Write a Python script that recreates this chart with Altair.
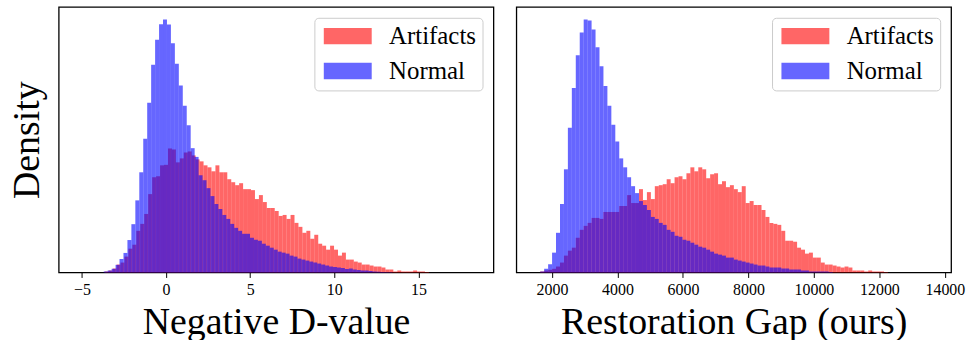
import altair as alt
import pandas as pd

SERIES = ["Artifacts", "Normal"]
COLORS = ["#ff0000", "#0000ff"]

# ---- Left panel: Negative D-value (histogram heights, arbitrary density units) ----
L_BIN_WIDTH = 0.235
L_ART_START = -3.645
L_ART = [1, 2, 4, 8, 10, 16, 24, 28, 42, 49, 59, 79, 96, 97, 108,
         108.5, 125, 124, 111, 115, 121, 122, 118, 114, 112, 108, 106, 102, 108, 101,
         101, 94, 91, 88, 90, 84, 84, 83, 74, 78, 71, 65, 65, 62, 57,
         58, 54, 58, 50, 46, 40, 42, 34, 38, 29, 27, 23, 27, 23, 17,
         20, 13, 13, 11, 10, 8, 8, 7, 6, 6, 5, 3, 3, 1, 2,
         1, 1, 1, 2, 1, 1, 0.5]
L_NOR_START = -3.705
L_NOR = [1, 2, 3.7, 7.7, 13.7, 19.7, 32.7, 48.7, 72.7, 101, 134.7, 171, 209.3, 234.7, 250.3,
         255, 250, 231, 210.3, 188.5, 168, 148.5, 125.3, 116.5, 98, 93, 85, 77, 69, 64,
         58, 54, 49, 45, 42, 39, 39, 35, 33, 32, 29, 27, 25, 23, 21,
         20, 19, 17, 16, 14, 13, 12, 11, 10, 9, 8, 7, 6, 5.5, 5,
         4.5, 3.5, 4, 3, 2.5, 2, 2, 1.5, 1, 0.8, 0.5, 0.4, 0.3]
L_TICKS = [-5, 0, 5, 10, 15]
L_DOMAIN = [-6.38, 19.46]

# ---- Right panel: Restoration Gap (ours) ----
R_BIN_WIDTH = 120.7
R_ART_START = 1640.3
R_ART = [1, 2, 2.7, 3.7, 6, 10, 17, 22, 25, 35, 43, 47, 50, 55, 55, 54, 61, 61, 61, 61,
         67, 67, 78, 70, 70, 84, 73, 81, 74, 87, 88, 89, 94, 90, 96, 97, 94, 100, 106, 102,
         106, 104, 95, 99, 100, 89, 92, 86, 88, 84, 81, 87, 70, 72, 68, 68, 63, 56, 50, 49,
         48, 42, 32, 32, 31, 25, 23, 19, 20, 15, 15, 10, 8, 8, 7, 6, 5, 6, 5, 2,
         2, 2, 1, 2, 1, 1, 1, 0.5]
R_NOR_START = 1640.3
R_NOR = [1, 3.7, 8.3, 20, 40, 69, 104, 146, 186, 219, 242, 255, 254, 245, 227, 208, 188, 168, 149, 132,
         115, 106, 96, 87, 80, 72, 68, 63, 56, 54, 50, 48, 43, 41, 37, 36, 33, 32, 30, 28,
         26, 25, 23, 21, 19, 18, 17, 15, 15, 13, 12, 11, 10, 9, 8, 7, 7, 6, 5, 5,
         5, 4, 4, 3, 3, 3, 2, 2, 1, 1, 1, 1, 1, 0.5]
R_TICKS = [2000, 4000, 6000, 8000, 10000, 12000, 14000]
R_DOMAIN = [911, 14190]

Y_MAX = 267.75
FONT = "Liberation Serif"


def build(series_specs, width):
    rows = []
    for name, start, heights in series_specs:
        for i, h in enumerate(heights):
            rows.append({"series": name, "x0": start + i * width,
                         "x1": start + (i + 1) * width, "h": h, "base": 0.0})
    return pd.DataFrame(rows)


left_df = build([("Artifacts", L_ART_START, L_ART), ("Normal", L_NOR_START, L_NOR)], L_BIN_WIDTH)
right_df = build([("Artifacts", R_ART_START, R_ART), ("Normal", R_NOR_START, R_NOR)], R_BIN_WIDTH)

legend = alt.Legend(
    title=None, orient="top-right", offset=11, padding=6,
    fillColor="rgba(255,255,255,0.8)", strokeColor="#cccccc", cornerRadius=4,
    labelFont=FONT, labelFontSize=25, labelColor="black", labelOffset=41,
    symbolType="M-1,-0.68H3V0.68H-1Z", symbolSize=580, symbolOpacity=0.6,
    symbolStrokeWidth=0, symbolOffset=3, rowPadding=9,
)


def panel(df, domain, ticks, xtitle, ytitle, fmt):
    yaxis = alt.Axis(title=ytitle, labels=False, ticks=False, domain=False, grid=False,
                     titlePadding=12, titleFont=FONT) if ytitle else None
    return alt.Chart(df).mark_rect(opacity=0.6, strokeWidth=0).encode(
        x=alt.X("x0:Q", scale=alt.Scale(domain=domain, nice=False, zero=False),
                axis=alt.Axis(values=ticks, title=xtitle, format=fmt, grid=False,
                              labelFont=FONT, titleFont=FONT)),
        x2="x1:Q",
        y=alt.Y("h:Q", scale=alt.Scale(domain=[0, Y_MAX], nice=False, zero=True), axis=yaxis),
        y2="base:Q",
        color=alt.Color("series:N", scale=alt.Scale(domain=SERIES, range=COLORS), legend=legend),
    ).properties(width=437, height=267)


left = panel(left_df, L_DOMAIN, L_TICKS, "Negative D-value", "Density", "")
right = panel(right_df, R_DOMAIN, R_TICKS, "Restoration Gap (ours)", None, "d")

chart = alt.hconcat(left, right, spacing=21).resolve_scale(color="independent").resolve_legend(
    color="independent"
).properties(
    padding={"left": 8, "top": 5, "right": 5, "bottom": 0}
).configure_view(
    stroke="black", strokeWidth=1.3
).configure_axis(
    labelFont=FONT, labelFontSize=16, labelColor="black", labelPadding=4,
    titleFont=FONT, titleFontSize=38, titleFontWeight="normal", titleColor="black",
    titlePadding=6, tickColor="black", tickSize=5, tickWidth=1, domain=False,
)

chart.save("out.html", embed_options={"renderer": "svg", "actions": False})
